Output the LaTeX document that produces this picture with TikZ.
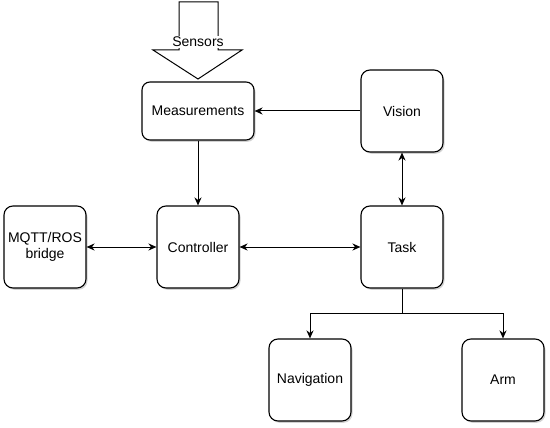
\documentclass[tikz,border=0pt]{standalone}
\usepackage{fontspec}
\setmainfont{Liberation Sans}
\usetikzlibrary{arrows.meta,shadows}
\tikzset{
  box/.style={draw=black, line width=1.1pt, fill=white, rounded corners=9pt,
    minimum width=82pt, minimum height=82pt, align=center, font=\fontsize{14}{16}\selectfont,
    drop shadow={shadow xshift=1.5pt, shadow yshift=-1.8pt, opacity=0.35, fill=gray}},
  conn/.style={line width=1pt, draw=black},
  tip/.style={-{Stealth[length=8pt,width=7pt,inset=2.5pt]}},
  dtip/.style={{Stealth[length=8pt,width=7pt,inset=2.5pt]}-{Stealth[length=8pt,width=7pt,inset=2.5pt]}}
}
\begin{document}
\begin{tikzpicture}[x=1pt,y=-1pt]
\useasboundingbox[fill=white] (0,0) rectangle (550,428);
% Sensors block arrow
\draw[line width=1pt, fill=white] (179,2) -- (218,2) -- (218,50) -- (242,50) -- (198,79) -- (153,50) -- (179,50) -- cycle;
\node[fill=white, inner sep=1pt, font=\fontsize{14}{16}\selectfont] (sensors) at (198,42) {Sensors};
% boxes
\node[box, minimum width=112pt, minimum height=58pt, rounded corners=8pt] (meas) at (198,111) {Measurements};
\node[box] (vision) at (402,111) {Vision};
\node[box] (ctrl) at (198,247) {Controller};
\node[box] (mqtt) at (45,247) {MQTT/ROS\\bridge};
\node[box] (task) at (402,247) {Task};
\node[box] (nav) at (310,380) {Navigation};
\node[box] (arm) at (503,380) {Arm};
\coordinate (split) at (402,313);
% connectors
\draw[conn,tip] (vision) -- (meas);
\draw[conn,tip] (meas) -- (ctrl);
\draw[conn,dtip] (mqtt) -- (ctrl);
\draw[conn,dtip] (ctrl) -- (task);
\draw[conn,dtip] (vision) -- (task);
\draw[conn] (task) -- (split);
\draw[conn,tip] (split) -| (nav);
\draw[conn,tip] (split) -| (arm);
\end{tikzpicture}
\end{document}
